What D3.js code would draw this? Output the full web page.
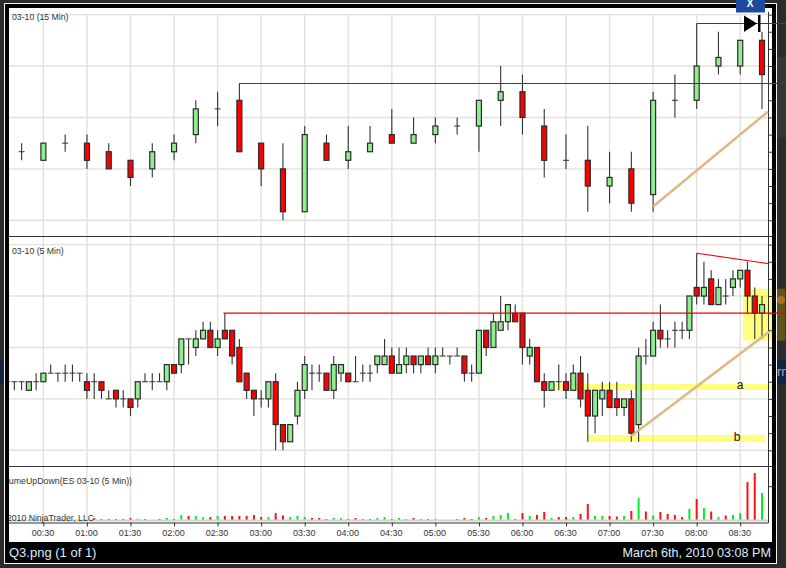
<!DOCTYPE html>
<html>
<head>
<meta charset="utf-8">
<title>Q3.png</title>
<script src="https://cdn.jsdelivr.net/npm/d3@7"></script>
<style>
    html, body { margin: 0; padding: 0; background: #2a2a2a; overflow: hidden; }
    svg { display: block; }
    text { font-family: "Liberation Sans", Arial, sans-serif; }
</style>
</head>
<body>
<div id="chart"></div>
<script>
// The price labels are cut off in the picture, so prices are kept as ES ticks above the session low

// 15 minute bars
const times15 = ["00:15","00:30","00:45","01:00","01:15","01:30","01:45","02:00","02:15","02:30","02:45","03:00",
    "03:15","03:30","03:45","04:00","04:15","04:30","04:45","05:00","05:15","05:30","05:45","06:00",
    "06:15","06:30","06:45","07:00","07:15","07:30","07:45","08:00","08:15","08:30","08:45"];
const open15  = [8,7,9,9,8,7,6,8,10,13,14,9, 6,1,9,7,8,10,9,10,11,11,14,15, 11,7,7,4,6,3,14,14,18,18,21];
const high15  = [9,9,10,10,9,7,9,10,14,15,16,9, 9,11,10,11,11,13,12,12,12,14,18,17, 13,10,11,8,8,15,17,23,22,21,22];
const low15   = [7,7,8,6,6,4,5,7,9,11,8,4, 0,1,7,6,8,9,9,9,10,8,11,10, 5,6,1,2,1,1,12,13,17,17,13];
const close15 = [8,9,9,7,6,5,8,9,13,13,8,6, 1,10,7,8,9,9,10,11,11,14,15,12, 7,7,4,5,2,14,14,18,19,21,17];

// 5 minute bars
const times5 = ["00:05","00:10","00:15","00:20","00:25","00:30","00:35","00:40","00:45","00:50","00:55","01:00",
    "01:05","01:10","01:15","01:20","01:25","01:30","01:35","01:40","01:45","01:50","01:55","02:00",
    "02:05","02:10","02:15","02:20","02:25","02:30","02:35","02:40","02:45","02:50","02:55","03:00",
    "03:05","03:10","03:15","03:20","03:25","03:30","03:35","03:40","03:45","03:50","03:55","04:00",
    "04:05","04:10","04:15","04:20","04:25","04:30","04:35","04:40","04:45","04:50","04:55","05:00",
    "05:05","05:10","05:15","05:20","05:25","05:30","05:35","05:40","05:45","05:50","05:55","06:00",
    "06:05","06:10","06:15","06:20","06:25","06:30","06:35","06:40","06:45","06:50","06:55","07:00",
    "07:05","07:10","07:15","07:20","07:25","07:30","07:35","07:40","07:45","07:50","07:55","08:00",
    "08:05","08:10","08:15","08:20","08:25","08:30","08:35","08:40","08:45"];
const open5 = [8,8,8,7,8,8,9,9,9,9,9,8,
    8,8,6,7,6,6,6,8,8,8,8,10,
    10,13,12,13,14,12,14,14,12,9,7,6,
    6,8,3,1,4,7,9,9,9,7,9,9,
    8,9,9,10,10,11,9,10,11,10,11,10,
    11,11,11,11,9,9,14,12,14,15,16,16,
    11,12,8,7,8,8,7,9,7,4,6,7,
    6,5,6,3,11,11,14,13,14,14,14,19,
    18,20,17,18,19,20,21,18,16];
const high5 = [9,8,8,8,9,9,10,9,10,10,9,9,
    9,8,7,7,7,6,8,9,9,9,10,10,
    13,13,14,15,15,14,16,14,13,9,7,7,
    8,9,3,3,8,11,10,10,9,11,10,9,
    11,10,10,11,13,12,12,12,11,11,12,12,
    12,11,12,11,10,14,14,16,18,17,17,16,
    13,12,9,8,10,9,10,11,9,7,8,8,
    8,6,7,12,13,15,17,14,15,15,18,23,
    22,21,20,20,21,21,22,19,18];
const low5 = [8,7,7,7,7,8,9,8,8,8,8,6,
    6,6,6,5,5,4,5,8,7,8,7,9,
    9,10,11,13,12,11,13,10,8,6,4,5,
    5,0,0,1,3,6,7,8,7,6,8,8,
    8,8,8,9,10,9,9,9,9,9,10,9,
    11,10,11,8,8,9,11,12,14,14,15,10,
    10,8,5,7,7,6,7,5,1,2,4,5,
    4,4,1,1,10,11,12,12,12,13,13,17,
    17,17,17,17,18,19,16,13,13];
const close5 = [8,8,8,8,8,9,9,9,9,9,9,7,
    8,7,6,6,6,5,8,8,8,8,10,9,
    13,13,13,14,12,13,13,11,8,7,6,6,
    8,3,1,3,7,10,9,9,7,10,10,8,
    8,9,9,11,11,9,10,11,10,11,10,11,
    11,11,11,9,9,14,12,15,15,17,15,12,
    12,8,7,8,8,7,9,6,4,7,7,5,
    5,6,2,11,11,14,13,13,14,14,18,18,
    19,17,19,18,20,21,18,16,17];

// VolumeUpDown panel, same 5 minute bars
const volumeUp = [0,0,0,0,0,0,0,0,0,0,0,0,
    0,0,0,0,0,0,150,0,0,0,300,0,
    750,0,600,400,0,600,0,0,0,0,0,0,
    450,0,0,450,600,450,0,0,0,300,300,0,
    0,0,0,300,450,0,300,150,0,150,0,150,
    0,0,0,0,0,450,0,600,750,1050,0,0,
    600,0,0,300,0,0,450,0,0,600,600,0,
    0,600,0,3300,0,675,0,0,0,0,1650,0,
    1800,0,450,0,750,1050,0,0,4050];
const volumeDown = [0,0,0,0,0,0,0,0,0,0,0,0,
    300,150,150,150,150,300,0,150,0,150,0,150,
    0,600,0,0,450,0,600,600,600,600,750,450,
    0,1050,675,0,0,0,300,300,150,0,0,150,
    300,150,150,0,0,150,0,0,300,0,150,0,
    0,0,150,300,150,0,300,0,0,0,150,1050,
    0,750,1200,0,450,450,0,900,2400,0,0,600,
    525,0,1350,0,1275,0,1200,900,750,450,0,3150,
    0,1275,0,675,0,0,5700,7050,0];

const timeTicks = ["00:30","01:00","01:30","02:00","02:30","03:00","03:30","04:00","04:30","05:00",
    "05:30","06:00","06:30","07:00","07:30","08:00","08:30"];
const gridTicks = [0,6,12,18,24];
const priceTicks = [-2,0,2,4,6,8,10,12,14,16,18,20,22,24,26];

// Drawn tools, as [time, ticks] pairs
const topStopLine = [["02:45",16],["09:05",16]];
const topHighLine = [["08:00",23],["09:05",23]];
const topTrend = [["07:30",1.6],["08:49",12.67]];
const lowStopLine = [["02:34",16],["09:05",16]];
const lowHighLine = [["08:00",23],["08:50",21.77]];
const lowTrend = [["07:15",1.67],["08:50",13.84]];
const zones = [
    { from: "06:22", to: "08:52", low: 7.04, high: 7.74 },
    { from: "06:45", to: "08:47", low: 0.97, high: 1.79 },
    { from: "08:32", to: "09:01", low: 12.8, high: 18.85 }
];

const width = 786;
const height = 568;
const plot = { left: 9, top: 8, right: 772, bottom: 542 };
const axisX = 768;

const minutes = s => +s.slice(0, 2) * 60 + +s.slice(3);

const svg = d3.select("#chart")
    .append("svg")
    .attr("width", width)
    .attr("height", height);

svg.append("defs").append("clipPath")
    .attr("id", "plotClip")
    .append("rect")
    .attr("x", plot.left)
    .attr("y", plot.top)
    .attr("width", plot.right - plot.left)
    .attr("height", plot.bottom - plot.top);

// Scales
const x = d3.scaleLinear().domain([30, 525]).range([43.4, 762]);
const yTop = d3.scaleLinear().domain([0, 24]).range([220.3, 14.6]);
const yLow = d3.scaleLinear().domain([0, 24]).range([450.3, 244.6]);
const yVol = d3.scaleLinear().domain([0, 5000]).range([520, 486.7]);

// Desktop behind the viewer window
svg.append("rect").attr("width", width).attr("height", height).attr("fill", "#2b2b2b");
svg.append("rect").attr("x", 777).attr("y", 57).attr("width", 9).attr("height", 81).attr("fill", "#353535");
svg.append("rect").attr("x", 0).attr("y", 360).attr("width", 4).attr("height", 24).attr("fill", "#14233f");
svg.append("rect").attr("x", 777).attr("y", 360).attr("width", 9).attr("height", 24).attr("fill", "#14233f");
svg.append("text").attr("x", 777).attr("y", 376).attr("font-size", 13).attr("fill", "#9aa9c0").text("rn");
svg.append("rect")
    .attr("x", x(minutes(zones[2].from)))
    .attr("y", yLow(zones[2].high))
    .attr("width", x(minutes(zones[2].to)) - x(minutes(zones[2].from)))
    .attr("height", yLow(zones[2].low) - yLow(zones[2].high))
    .attr("fill", "#5c5718");
svg.append("circle").attr("cx", 781).attr("cy", 300).attr("r", 4).attr("fill", "#a9701e");

// Viewer frame
svg.append("rect")
    .attr("x", 4.5).attr("y", 3.5).attr("width", 772).attr("height", 560)
    .attr("fill", "#000").attr("stroke", "#f2f2f2");
svg.append("rect")
    .attr("x", plot.left).attr("y", plot.top)
    .attr("width", plot.right - plot.left).attr("height", plot.bottom - plot.top)
    .attr("fill", "#fff");

const chart = svg.append("g").attr("clip-path", "url(#plotClip)");

// Vertical grid runs through all three panels
chart.selectAll(".vgrid")
    .data(timeTicks)
    .enter()
    .append("line")
    .attr("x1", d => x(minutes(d)))
    .attr("x2", d => x(minutes(d)))
    .attr("y1", 14)
    .attr("y2", 521)
    .attr("stroke", "#e2e0da")
    .attr("stroke-width", 1.4);

[yTop, yLow].forEach(y => {
    chart.append("g").selectAll("line")
        .data(gridTicks)
        .enter()
        .append("line")
        .attr("x1", plot.left)
        .attr("x2", axisX)
        .attr("y1", d => y(d))
        .attr("y2", d => y(d))
        .attr("stroke", "#e2e0da")
        .attr("stroke-width", 1.4);
});

// Yellow zones sit under the candles
chart.selectAll(".zone")
    .data(zones)
    .enter()
    .append("rect")
    .attr("x", d => x(minutes(d.from)))
    .attr("y", d => yLow(d.high))
    .attr("width", d => x(minutes(d.to)) - x(minutes(d.from)))
    .attr("height", d => yLow(d.low) - yLow(d.high))
    .attr("fill", "#ffff00")
    .attr("fill-opacity", 0.5);

function drawCandles(times, opens, highs, lows, closes, y) {
    const g = chart.append("g");
    times.forEach((t, i) => {
        const cx = x(minutes(t));
        g.append("line")
            .attr("x1", cx).attr("x2", cx)
            .attr("y1", y(highs[i])).attr("y2", y(lows[i]))
            .attr("stroke", "#333").attr("stroke-width", 1.1);
        if (opens[i] === closes[i]) {
            g.append("line")
                .attr("x1", cx - 3).attr("x2", cx + 3)
                .attr("y1", y(opens[i])).attr("y2", y(opens[i]))
                .attr("stroke", "#333").attr("stroke-width", 1);
        } else {
            g.append("rect")
                .attr("x", cx - 2.5)
                .attr("y", y(Math.max(opens[i], closes[i])))
                .attr("width", 5)
                .attr("height", Math.abs(y(opens[i]) - y(closes[i])))
                .attr("fill", closes[i] > opens[i] ? "#90ee90" : "#ff0000")
                .attr("stroke", "#2a2a2a")
                .attr("stroke-width", 1.2);
        }
    });
}

drawCandles(times15, open15, high15, low15, close15, yTop);
drawCandles(times5, open5, high5, low5, close5, yLow);

// Volume bars
[[volumeUp, "#00ee22"], [volumeDown, "#ff1111"]].forEach(([values, color]) => {
    chart.append("g").selectAll("rect")
        .data(values)
        .enter()
        .append("rect")
        .attr("x", (d, i) => x(minutes(times5[i])) - 1)
        .attr("y", d => yVol(d))
        .attr("width", 2)
        .attr("height", d => yVol(0) - yVol(d))
        .attr("fill", color);
});

// Panel separators, baseline and the bottom time axis
chart.append("rect").attr("x", plot.left).attr("y", 519.5).attr("width", axisX - plot.left).attr("height", 2).attr("fill", "#d4d4d0");
[236.5, 466.5].forEach(v => {
    svg.append("line")
        .attr("x1", plot.left).attr("x2", axisX + 4)
        .attr("y1", v).attr("y2", v)
        .attr("stroke", "#333");
});

const timeAxis = svg.append("g")
    .attr("transform", "translate(0,522.5)")
    .call(d3.axisBottom(x)
        .tickValues(timeTicks.map(minutes))
        .tickFormat((d, i) => timeTicks[i])
        .tickSize(4)
        .tickPadding(3));
timeAxis.select(".domain").attr("d", `M${plot.left},0.5H${axisX}`).attr("stroke", "#333");
timeAxis.selectAll("line").attr("stroke", "#333");
timeAxis.selectAll("text")
    .attr("font-size", 9)
    .attr("dx", -1)
    .attr("font-family", "'Liberation Sans', Arial, sans-serif")
    .attr("fill", "#333");

// Price axes, labels fall outside the crop
[yTop, yLow].forEach(y => {
    const a = svg.append("g")
        .attr("transform", `translate(${axisX + 0.5},0)`)
        .call(d3.axisRight(y).tickValues(priceTicks.filter(d => y(d) > (y === yTop ? 14 : 244) && y(d) < (y === yTop ? 236 : 466))).tickSize(4).tickFormat(""));
    a.select(".domain").remove();
    a.selectAll("line").attr("stroke", "#333");
});
svg.append("line")
    .attr("x1", axisX + 0.5).attr("x2", axisX + 0.5)
    .attr("y1", 12).attr("y2", 523)
    .attr("stroke", "#333");
svg.append("line")
    .attr("x1", axisX + 0.5).attr("x2", axisX + 4.5)
    .attr("y1", yVol(5000)).attr("y2", yVol(5000))
    .attr("stroke", "#333");

// Drawing tools
const toolLine = (points, y, color, w, crisp) => svg.append("path")
    .attr("d", d3.line().x(d => x(minutes(d[0]))).y(d => y(d[1]))(points))
    .attr("fill", "none")
    .attr("stroke", color)
    .attr("stroke-width", w)
    .attr("shape-rendering", crisp ? "crispEdges" : "auto");

toolLine(topTrend, yTop, "#e0b888", 2.5);
toolLine(lowTrend, yLow, "#e0b888", 2.5);
toolLine(topStopLine, yTop, "#d40000", 1, true);
toolLine(topHighLine, yTop, "#d40000", 1, true);
toolLine(lowStopLine, yLow, "#f00000", 1.4);
toolLine(lowHighLine, yLow, "#e80000", 1.1);

svg.append("text").attr("x", 740).attr("y", 389).attr("font-size", 12).attr("text-anchor", "middle").attr("fill", "#111").text("a");
svg.append("text").attr("x", 737).attr("y", 441).attr("font-size", 12).attr("text-anchor", "middle").attr("fill", "#111").text("b");

// Panel titles
chart.append("text").attr("x", 12).attr("y", 20).attr("font-size", 8.7).attr("fill", "#333").text("03-10 (15 Min)");
chart.append("text").attr("x", 12).attr("y", 254).attr("font-size", 8.7).attr("fill", "#333").text("03-10 (5 Min)");
chart.append("text").attr("x", 132).attr("y", 484).attr("font-size", 8.8).attr("text-anchor", "end").attr("fill", "#333").text("VolumeUpDown(ES 03-10 (5 Min))");
chart.append("text").attr("x", 94).attr("y", 521).attr("font-size", 8.7).attr("text-anchor", "end").attr("fill", "#333").text("© 2010 NinjaTrader, LLC");

// Caption strip and the viewer buttons
svg.append("text")
    .attr("x", 9).attr("y", 557)
    .attr("font-size", 13)
    .attr("font-family", "'DejaVu Sans', sans-serif")
    .attr("fill", "#dfeeff")
    .text("Q3.png (1 of 1)");
svg.append("text")
    .attr("x", 771).attr("y", 557)
    .attr("font-size", 12.6)
    .attr("font-family", "'DejaVu Sans', sans-serif")
    .attr("text-anchor", "end")
    .attr("fill", "#dfeeff")
    .text("March 6th, 2010 03:08 PM");

svg.append("rect").attr("x", 736).attr("y", 0).attr("width", 29).attr("height", 12.5).attr("fill", "#1d4a9c");
svg.append("text").attr("x", 750).attr("y", 7).attr("font-size", 10).attr("font-weight", "bold").attr("text-anchor", "middle").attr("fill", "#fff").text("X");
svg.append("path").attr("d", "M744,15.5L757,23.5L744,32Z").attr("fill", "#000");
svg.append("rect").attr("x", 758).attr("y", 15).attr("width", 2.5).attr("height", 17).attr("fill", "#000");
</script>
</body>
</html>
